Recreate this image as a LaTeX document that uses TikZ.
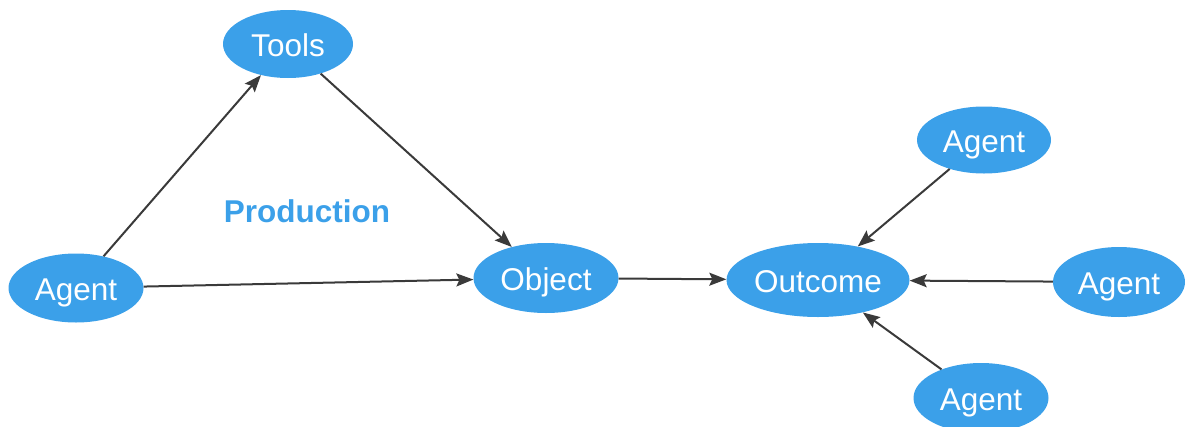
\documentclass[tikz,border=0pt]{standalone}
\usepackage{fontspec}
\setmainfont{Liberation Sans}
\usetikzlibrary{arrows.meta,shapes.geometric}
\definecolor{nodeblue}{HTML}{3BA0E9}
\definecolor{edgegray}{HTML}{3A3A3A}
\begin{document}
\begin{tikzpicture}[x=1pt,y=-1pt,
  ent/.style={ellipse, fill=nodeblue, text=white, inner sep=0pt, text height=24pt, text depth=0pt, font=\fontsize{31.5}{31.5}\selectfont},
  link/.style={draw=edgegray, line width=2pt, -{Stealth[length=17pt,width=13pt,inset=3pt]}},
  lbl/.style={text=nodeblue, font=\bfseries\fontsize{31.5}{31.5}\selectfont}]
\useasboundingbox (0,0) rectangle (1189,426);
\clip (0,0) rectangle (1189,426);
\node[ent, minimum width=130pt, minimum height=68pt] (tools) at (288,44) {Tools};
\node[ent, minimum width=135pt, minimum height=69pt] (agentA) at (76,288) {Agent};
\node[ent, minimum width=145pt, minimum height=70pt] (object) at (546,278) {Object};
\node[ent, minimum width=183pt, minimum height=74pt] (outcome) at (818,280) {Outcome};
\node[ent, minimum width=134pt, minimum height=67pt] (agentB) at (984,140) {Agent};
\node[ent, minimum width=132pt, minimum height=70pt] (agentC) at (1119,282) {Agent};
\node[ent, minimum width=135pt, minimum height=70pt] (agentD) at (981,398) {Agent};
\node[lbl, text height=24pt, text depth=0pt] (prod) at (307,210) {Production};
\draw[link] (agentA) -- (tools);
\draw[link] (tools) -- (object);
\draw[link] (agentA) -- (object);
\draw[link] (object) -- (outcome);
\draw[link] (agentB) -- (outcome);
\draw[link] (agentC) -- (outcome);
\draw[link] (agentD) -- (outcome);
\end{tikzpicture}
\end{document}
